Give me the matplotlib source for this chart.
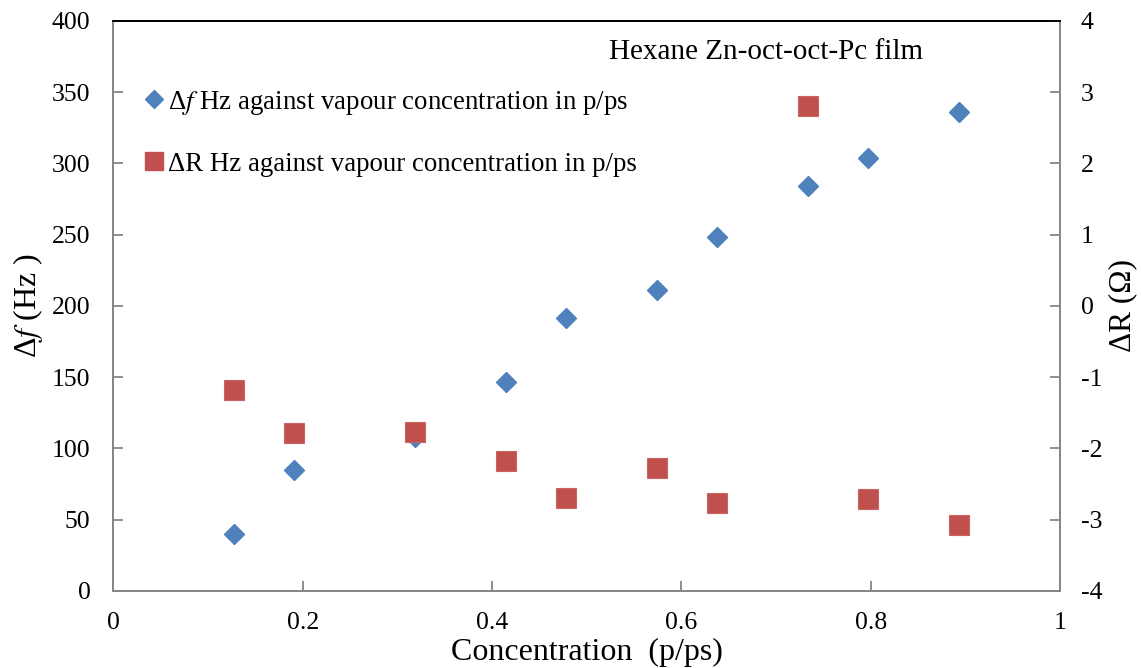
import matplotlib
matplotlib.use('Agg')
import matplotlib.pyplot as plt
from matplotlib.lines import Line2D

plt.rcParams['font.family'] = ['Liberation Serif', 'DejaVu Serif']
plt.rcParams['mathtext.fontset'] = 'stix'
plt.rcParams['axes.unicode_minus'] = False

# concentration in p/ps
conc = [0.1275, 0.191, 0.3187, 0.4147, 0.478, 0.574, 0.6376, 0.7338, 0.797, 0.893]
# frequency shift (Hz)
df = [40, 85, 108, 147, 191.5, 211, 248.5, 284.5, 303.5, 336]
# resistance change (Ohm)
dR = [-1.18, -1.78, -1.77, -2.17, -2.70, -2.28, -2.76, 2.80, -2.71, -3.07]

blue = '#4F81BD'
red = '#C0504D'
grey = '#868686'

fig = plt.figure(figsize=(11.41, 6.68), dpi=100)
ax = fig.add_axes([0.0993, 0.1153, 0.8297, 0.8533])
ax2 = ax.twinx()

ax.plot(conc, df, 'D', color=blue, markersize=10.5, markeredgecolor=blue, zorder=3)
ax2.plot(conc, dR, 's', color=red, markersize=14.5, markeredgecolor='#C96461',
         markeredgewidth=0.8, zorder=3)

ax.set_xlim(0, 1)
ax.set_ylim(0, 400)
ax2.set_ylim(-4, 4)
ax.set_xticks([0, 0.2, 0.4, 0.6, 0.8, 1])
ax.set_xticklabels(['0', '0.2', '0.4', '0.6', '0.8', '1'])
ax.set_yticks(range(0, 401, 50))
ax2.set_yticks(range(-4, 5))

for a in (ax, ax2):
    for s in ['left', 'right', 'bottom']:
        a.spines[s].set_color(grey)
        a.spines[s].set_linewidth(1.3)
    a.spines['top'].set_color('black')
    a.spines['top'].set_linewidth(1.3)
    a.tick_params(direction='in', length=7, width=1.3, color=grey,
                  labelsize=18.5)

ax.tick_params(axis='x', pad=15)
ax.tick_params(axis='y', pad=16.5)
ax2.tick_params(axis='y', pad=15)

ax.set_xlabel('Concentration  (p/ps)', fontsize=23, labelpad=3)
ax.set_ylabel(r'Δ$\mathit{f}$ (Hz )', fontsize=23, labelpad=5)
ax2.set_ylabel('ΔR (Ω)', fontsize=22.5, labelpad=4)

ax.text(0.855, 0.9456, 'Hexane Zn-oct-oct-Pc film', transform=ax.transAxes,
        fontsize=21, ha='right', va='center')

handles = [
    Line2D([], [], linestyle='none', marker='D', color=blue, markersize=9.5),
    Line2D([], [], linestyle='none', marker='s', color=red, markersize=13),
]
labels = [r'Δ$\mathit{f}$ Hz against vapour concentration in p/ps',
          'ΔR Hz against vapour concentration in p/ps']
ax2.legend(handles, labels, loc='upper left', bbox_to_anchor=(0.032, 0.881),
           frameon=False, fontsize=19.4, handlelength=0.8, handletextpad=0.1,
           labelspacing=1.3, borderaxespad=0, borderpad=0)

fig.savefig('out.png', dpi=100)
